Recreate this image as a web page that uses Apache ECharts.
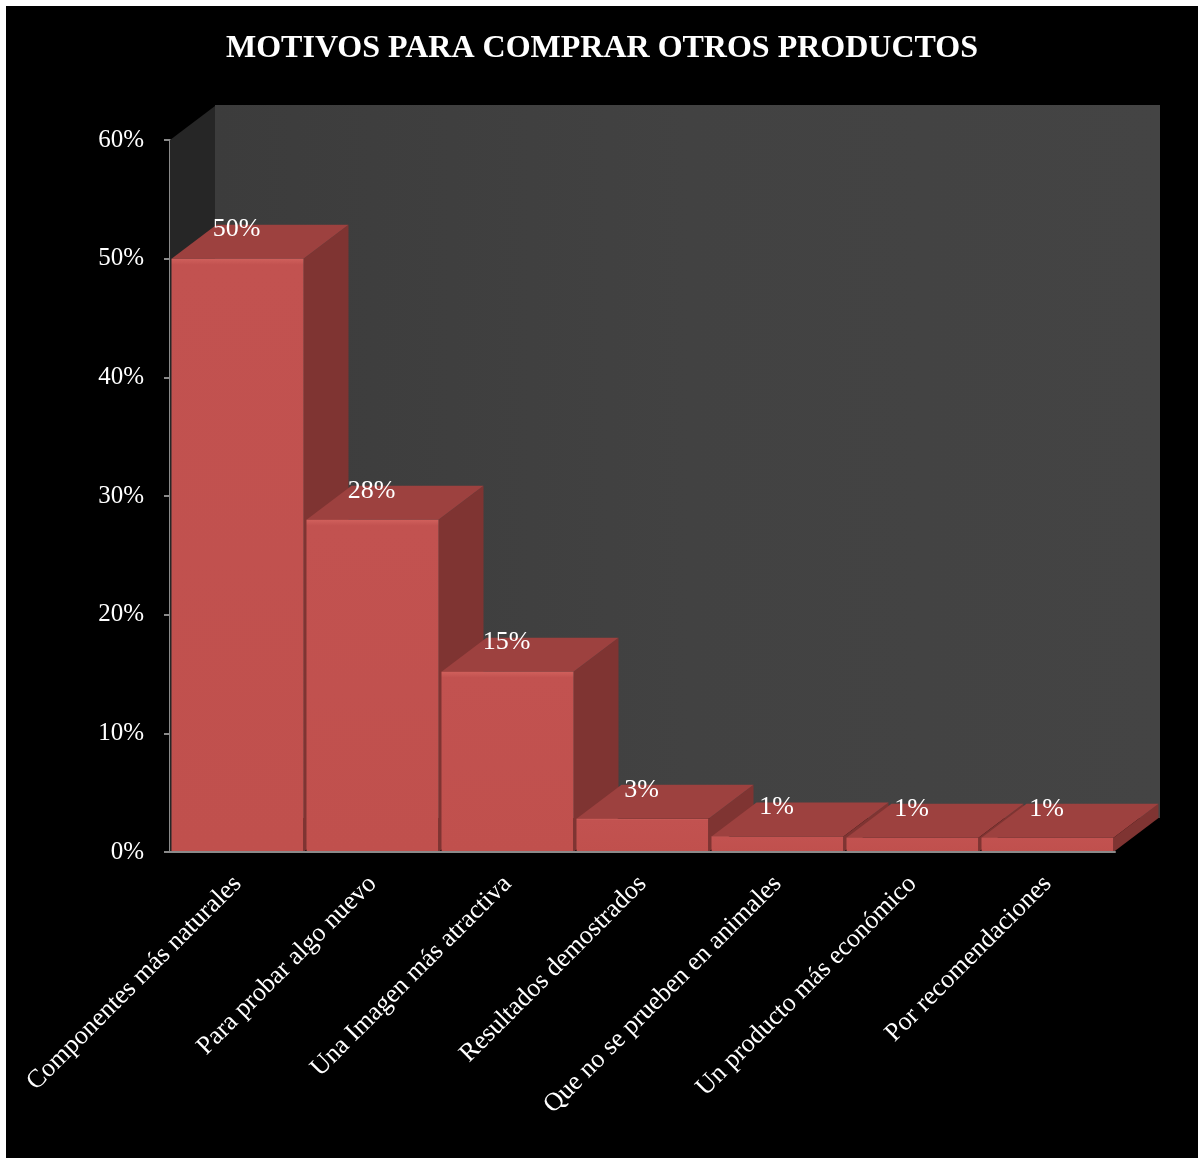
<!DOCTYPE html>
<html>
<head>
<meta charset="utf-8">
<script src="https://cdn.jsdelivr.net/npm/echarts@6/dist/echarts.min.js"></script>
<style>
html,body{margin:0;padding:0;background:#fff;}
#wrap{position:relative;width:1204px;height:1162px;background:#fff;}
#chart{position:absolute;left:6px;top:6px;width:1192px;height:1152px;}
</style>
</head>
<body>
<div id="wrap"><div id="chart"></div></div>
<script>
const titleText = 'MOTIVOS PARA COMPRAR OTROS PRODUCTOS';
const categories = [
  'Componentes más naturales',
  'Para probar algo nuevo',
  'Una Imagen más atractiva',
  'Resultados demostrados',
  'Que no se prueben en animales',
  'Un producto más económico',
  'Por recomendaciones'
];
const values = [50, 28, 15.2, 2.8, 1.3, 1.2, 1.2];
const labels = ['50%', '28%', '15%', '3%', '1%', '1%', '1%'];
const yTicks = [0, 10, 20, 30, 40, 50, 60];

const FONT = '"Liberation Serif", "Times New Roman", serif';
const DX = 45, DY = -34;

const chart = echarts.init(document.getElementById('chart'));

function wallItem(params, api) {
  const cs = params.coordSys;
  const x0 = cs.x, y0 = cs.y, x1 = cs.x + cs.width, y1 = cs.y + cs.height;
  return {
    type: 'group',
    children: [
      { type: 'polygon', shape: { points: [[x0, y0], [x0 + DX, y0 + DY], [x0 + DX, y1 + DY], [x0, y1]] },
        style: { fill: '#262626' } },
      { type: 'rect', shape: { x: x0 + DX, y: y0 + DY - 1, width: cs.width, height: cs.height + 1 },
        style: { fill: new echarts.graphic.LinearGradient(0, 0, 1, 0, [
          { offset: 0, color: '#3c3c3c' }, { offset: 0.5, color: '#424242' }, { offset: 1, color: '#444444' }]) } }
    ]
  };
}

function barItem(params, api) {
  const idx = api.value(0);
  const v = api.value(1);
  const top = api.coord([idx, v]);
  const base = api.coord([idx, 0]);
  const band = api.size([1, 0])[0];
  const w = band - 3;
  const xl = top[0] - w / 2, xr = top[0] + w / 2;
  const yt = top[1], yb = base[1];
  return {
    type: 'group',
    children: [
      { type: 'polygon', shape: { points: [[xr, yt], [xr + DX, yt + DY], [xr + DX, yb + DY], [xr, yb]] },
        style: { fill: '#7f3432' } },
      { type: 'polygon', shape: { points: [[xl, yt], [xl + DX, yt + DY], [xr + DX, yt + DY], [xr, yt]] },
        style: { fill: '#9d413f' } },
      { type: 'rect', shape: { x: xl, y: yt, width: w, height: yb - yt },
        style: { fill: new echarts.graphic.LinearGradient(0, 0, 0, 1, [
          { offset: 0, color: '#d0605c' }, { offset: Math.min(0.04, 6 / Math.max(yb - yt, 1)), color: '#c25250' }, { offset: 1, color: '#c0504d' }]) } },
      { type: 'text', x: top[0] - 1, y: yt - 29,
        style: { text: labels[idx], fill: '#ffffff', font: '26px ' + FONT, align: 'center', verticalAlign: 'middle' } }
    ]
  };
}

chart.setOption({
  backgroundColor: '#000000',
  animation: false,
  title: {
    text: titleText, left: 'center', top: 22,
    textStyle: { color: '#ffffff', fontFamily: FONT, fontWeight: 'bold', fontSize: 32 }
  },
  grid: { left: 164, right: 83, top: 134, bottom: 306 },
  xAxis: {
    type: 'category', data: categories,
    axisLine: { show: true, lineStyle: { color: '#8a8a8a', width: 2 } },
    axisTick: { show: false },
    axisLabel: { interval: 0, rotate: 45, color: '#ffffff', fontFamily: FONT, fontSize: 26, margin: 28 },
    z: 5
  },
  yAxis: {
    type: 'value', min: yTicks[0], max: yTicks[yTicks.length - 1], interval: 10,
    axisLine: { show: true, lineStyle: { color: '#8a8a8a', width: 2 } },
    axisTick: { show: true, length: 6, lineStyle: { color: '#8a8a8a', width: 2 } },
    splitLine: { show: false },
    axisLabel: { formatter: '{value}%', color: '#ffffff', fontFamily: FONT, fontSize: 25, margin: 26 }
  },
  series: [
    { type: 'custom', renderItem: wallItem, data: [[0, 0]], silent: true, z: 1 },
    { type: 'custom', renderItem: barItem, data: values.map((v, i) => [i, v]), z: 2 }
  ]
});
</script>
</body>
</html>
